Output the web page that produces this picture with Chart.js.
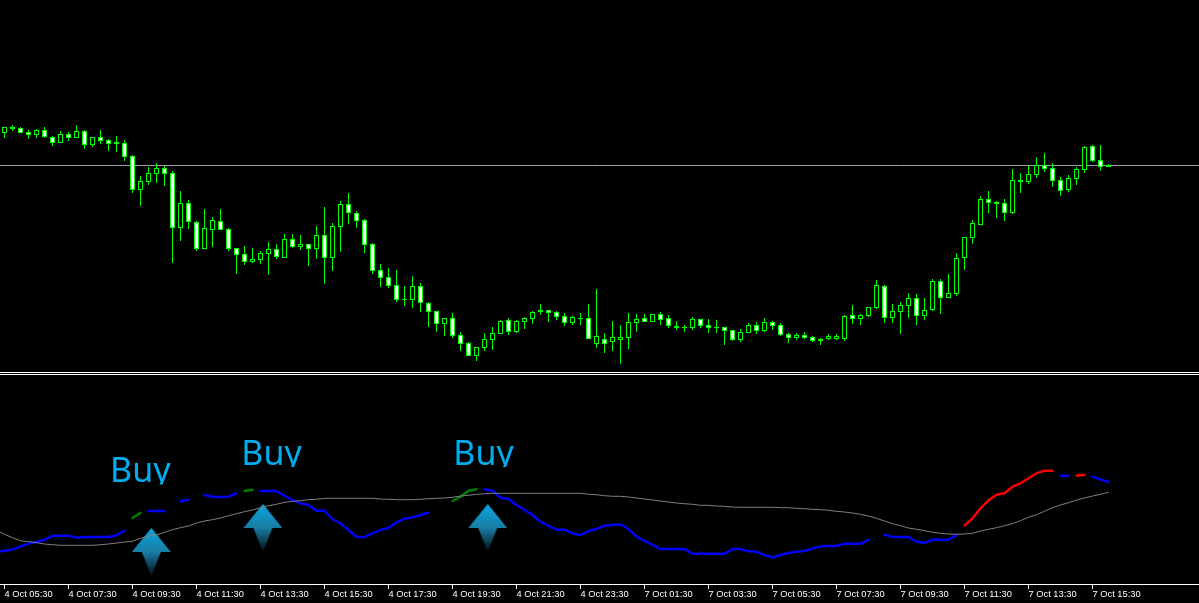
<!DOCTYPE html>
<html>
<head>
<meta charset="utf-8">
<title>Buy signals</title>
<script src="https://cdn.jsdelivr.net/npm/chart.js@4"></script>
<style>
  html, body { margin: 0; padding: 0; background: #000; overflow: hidden; }
  canvas { position: absolute; left: 0; display: block; }
  #priceChart { top: 0; }
  #indicatorChart { top: 375px; }
  .rule { position: absolute; left: 0; width: 1199px; height: 1px; background: #fff; }
</style>
</head>
<body>
<canvas id="priceChart" width="1199" height="372"></canvas>
<div class="rule" style="top:372px"></div>
<div class="rule" style="top:374px"></div>
<canvas id="indicatorChart" width="1199" height="228"></canvas>
<script>
// price pane, one entry per 15 minute bar
const opens = [239,243,244,240,237,242,235,229,238,234,241,227,235,232,228,229,216,182,190,198,204,199,144,169,150,123,142,151,143,124,118,110,112,118,123,114,133,125,128,123,137,114,145,168,159,152,128,102,95,87,72,72,86,69,61,48,54,37,29,16,24,32,38,52,40,50,53,60,62,60,56,49,53,54,28,33,30,32,34,49,54,50,58,54,44,44,44,53,47,44,45,42,32,39,47,41,50,47,38,34,37,35,31,33,33,33,57,53,56,64,86,54,60,66,74,56,62,91,74,78,114,134,147,173,168,169,159,190,190,197,207,204,192,182,193,202,226,212,205];
const highs = [245,247,245,242,243,245,236,241,240,247,242,235,242,233,236,232,217,196,205,209,206,201,181,172,151,163,155,163,144,124,126,124,121,130,128,138,138,137,128,146,165,149,171,179,161,153,129,108,104,102,86,96,89,70,61,54,59,40,30,25,39,45,52,54,52,55,61,68,62,61,59,56,59,68,83,39,51,47,59,58,58,58,60,57,51,47,55,53,53,52,45,42,43,49,50,54,51,49,39,39,40,36,34,38,38,57,67,58,65,92,87,68,70,79,78,74,93,93,98,119,135,152,176,181,171,173,203,199,206,215,219,209,195,197,205,226,227,227,208];
const lows = [234,241,239,233,234,234,226,229,231,234,223,225,228,221,220,211,179,166,187,189,186,109,131,143,121,123,125,142,121,98,107,109,108,97,113,114,124,122,106,113,88,101,120,148,144,119,98,85,84,70,66,64,60,45,40,36,34,21,16,11,21,22,38,37,39,43,48,57,50,52,46,47,47,33,24,19,21,8,23,40,50,50,47,44,42,40,42,44,39,39,27,31,30,39,38,40,42,36,29,32,33,30,27,32,32,31,48,47,55,63,49,49,38,54,47,52,61,58,74,76,102,128,147,159,154,151,158,179,188,194,200,185,176,180,187,199,210,201,205];
const closes = [245,245,239,237,242,235,229,238,234,241,227,235,231,228,230,215,182,191,199,204,198,144,169,150,123,144,152,142,123,117,110,113,119,123,115,133,125,128,123,137,114,146,168,159,151,127,101,94,86,72,73,86,69,60,48,54,36,28,16,25,33,39,51,40,51,54,60,62,59,55,49,55,54,33,36,28,35,35,50,53,50,58,52,46,46,45,53,46,44,45,41,32,40,47,41,50,46,37,34,37,34,31,33,36,36,56,53,57,65,87,54,61,67,74,56,62,91,74,79,114,135,149,173,169,170,159,192,192,198,207,203,191,181,194,203,225,211,205,207];
const levelValue = 206.5;

// indicator pane, first entry sits one bar left of the window
const signalLine = [53.7,49.7,46.3,43.3,42.3,41.3,40,39.3,38.7,38.7,38.7,38.7,38.7,39.3,40,41,42,42.7,45.7,48,49,51.7,54.3,56.3,58,61,63,64.3,66,68.3,70.3,72.3,74,76.3,78.3,79.7,81.7,82.7,83.3,84.3,84.7,85.7,85.7,85.7,85.7,85.7,85.7,85.7,85,84.7,84.3,84.3,84.3,84.7,85.3,85.7,86,86.7,88,88.7,89.7,90.3,90.7,90.7,90.7,90.7,90.7,90.7,90.7,90.7,90.7,90.7,90.7,90.7,89.7,89.3,88.3,87.7,87.7,87,86,85,84,83,82,81,80.3,79.7,78.7,78.7,78,77.7,77,76.7,76.7,76.7,76.7,76.7,76.3,76.3,75.7,75.3,74.7,74.3,73.7,72.7,72,71,69.7,68,65.7,63,60.3,58.3,56,54.7,53.3,51.7,50.7,50,49.7,50,50.7,53,54.7,56.3,58.3,60.3,63.3,66.7,69.3,72.7,76.3,79,81.3,84,86,88,89.7,91.7];
const blueLine = [32.5,33,34.7,37.3,40.3,42,44,48.3,48.3,48.3,46.3,47,47,47,47,48.7,53.3,null,null,73,73,73,null,82.7,84.3,null,89,87.3,87,87.3,90.7,null,null,93,93,93,88.3,84,80.7,79,73.3,73.3,64.7,60.7,54,47,47,50.7,54,56,61.7,65.3,66.7,69,71.3,null,null,null,null,null,null,94.7,93.3,86.3,85,79,74,69,62.3,58.3,54.3,54.3,50.7,49,53,55,58.3,59,59.7,55,47.3,43,39,35,35,35,35,30.3,30.3,30.3,30.3,30.3,35,35,32.7,32.3,29,26.7,29,31,32.3,33,35.3,37.7,38,38,40.3,40.3,40.3,44.3,null,49.3,47,47,47,42.3,41,44.3,44.3,44.3,49,null,null,null,null,null,null,null,null,null,null,null,null,108.3,108.3,null,null,107.3,104.7,102];
const greenBars = [16,17,18,30,31,32,56,57,58,59];
const greenLine = [66,71.3,null,93,94.3,null,83,87.3,93.3,94.7];
const redBars = [120,121,122,123,124,125,126,127,128,129,130,131,132,134,135];
const redLine = [58.3,65.7,75.7,83.7,89.3,90.7,97.3,100.7,105.7,110.7,113.3,113.3,null,108.3,109.3];

const arrowBars = [18.35, 32.3, 60.4];
const arrowLevels = [32, 56, 56];
const buyBars = [13.2, 29.6, 56.1];
const buyLevels = [102, 119.5, 119.5];
const buyText = 'Buy';

const tickLabels = ['4 Oct 05:30','4 Oct 07:30','4 Oct 09:30','4 Oct 11:30','4 Oct 13:30','4 Oct 15:30','4 Oct 17:30','4 Oct 19:30','4 Oct 21:30','4 Oct 23:30','7 Oct 01:30','7 Oct 03:30','7 Oct 05:30','7 Oct 07:30','7 Oct 09:30','7 Oct 11:30','7 Oct 13:30','7 Oct 15:30'];

const BAR_STEP = 8;
const X_MIN = -4.5 / BAR_STEP;
const X_MAX = (1199 - 4.5) / BAR_STEP;
const GREEN = '#00ff00';

function pairs(xs, ys) {
    return xs.map((x, i) => ({ x, y: ys[i] }));
}

function bars(a, b) {
    return a.map((v, i) => ({ x: i, y: [v, b[i]] }));
}

function lineDataset(data, color, width) {
    return {
        type: 'line',
        data,
        borderColor: color,
        borderWidth: width,
        pointRadius: 0,
        tension: 0,
        spanGaps: false,
        borderJoinStyle: 'round',
        borderCapStyle: 'round'
    };
}

function makeArrow() {
    const c = document.createElement('canvas');
    c.width = 39;
    c.height = 48;
    const ctx = c.getContext('2d');
    const grad = ctx.createLinearGradient(0, 0, 0, 48);
    grad.addColorStop(0, '#0aa8e0');
    grad.addColorStop(0.5, '#1a7ca3');
    grad.addColorStop(1, '#021018');
    ctx.fillStyle = grad;
    ctx.beginPath();
    ctx.moveTo(19.5, 0);
    ctx.lineTo(39, 24);
    ctx.lineTo(29, 24);
    ctx.lineTo(19.5, 48);
    ctx.lineTo(10, 24);
    ctx.lineTo(0, 24);
    ctx.closePath();
    ctx.fill();
    return c;
}

const buyLabels = {
    id: 'buyLabels',
    afterDatasetsDraw(chart) {
        const { ctx, scales } = chart;
        ctx.save();
        ctx.font = '34px "Noto Sans"';
        ctx.fillStyle = '#00aeef';
        ctx.textBaseline = 'alphabetic';
        buyBars.forEach((bar, i) => {
            const x = scales.x.getPixelForValue(bar);
            const y = scales.y.getPixelForValue(buyLevels[i]);
            // the descender of the y is cut off in the terminal
            ctx.save();
            ctx.beginPath();
            ctx.rect(x - 5, y - 40, 80, 42.5);
            ctx.clip();
            ctx.fillText(buyText, x, y);
            ctx.restore();
        });
        ctx.restore();
    }
};

const commonOptions = {
    responsive: false,
    animation: false,
    devicePixelRatio: 1,
    layout: { padding: 0, autoPadding: false },
    plugins: { legend: { display: false }, tooltip: { enabled: false } },
    events: []
};

new Chart(document.getElementById('priceChart'), {
    type: 'bar',
    data: {
        datasets: [
            {
                data: bars(opens, closes),
                barThickness: 5,
                grouped: false,
                borderWidth: 1,
                borderSkipped: false,
                inflateAmount: 0,
                borderColor: GREEN,
                backgroundColor: closes.map((c, i) => (c >= opens[i] ? '#000000' : '#ffffff'))
            },
            {
                data: bars(lows, highs),
                barThickness: 1,
                grouped: false,
                borderWidth: 0,
                inflateAmount: 0,
                backgroundColor: GREEN
            },
            lineDataset(pairs([X_MIN, X_MAX], [levelValue, levelValue]), '#a0a0ac', 1)
        ]
    },
    options: {
        ...commonOptions,
        scales: {
            x: { type: 'linear', display: false, offset: false, min: X_MIN, max: X_MAX },
            y: { display: false, min: 0, max: 372 }
        }
    }
});

new Chart(document.getElementById('indicatorChart'), {
    type: 'line',
    data: {
        datasets: [
            lineDataset(signalLine.map((v, i) => ({ x: i - 1, y: v })), '#808080', 1),
            lineDataset(blueLine.map((v, i) => ({ x: i - 1, y: v })), '#0000ff', 2.4),
            lineDataset(pairs(greenBars, greenLine), '#008000', 2.4),
            lineDataset(pairs(redBars, redLine), '#ff0000', 2.4),
            {
                type: 'scatter',
                data: pairs(arrowBars, arrowLevels),
                showLine: false,
                pointStyle: makeArrow(),
                pointRadius: 20
            }
        ]
    },
    options: {
        ...commonOptions,
        scales: {
            x: {
                type: 'linear',
                offset: false,
                min: X_MIN,
                max: X_MAX,
                afterBuildTicks(scale) {
                    scale.ticks = tickLabels.map((_, i) => ({ value: i * BAR_STEP }));
                },
                afterFit(scale) {
                    scale.height = 19;
                    scale.paddingLeft = 0;
                    scale.paddingRight = 0;
                },
                border: { color: '#ffffff', width: 1 },
                grid: { drawOnChartArea: false, color: '#ffffff', tickLength: 5 },
                ticks: {
                    autoSkip: false,
                    maxRotation: 0,
                    align: 'start',
                    padding: 0,
                    color: '#ffffff',
                    font: { family: '"Liberation Sans"', size: 9.3 },
                    callback: (value, index) => tickLabels[index]
                }
            },
            y: { display: false, min: 0, max: 209 }
        }
    },
    plugins: [buyLabels]
});
</script>
</body>
</html>
